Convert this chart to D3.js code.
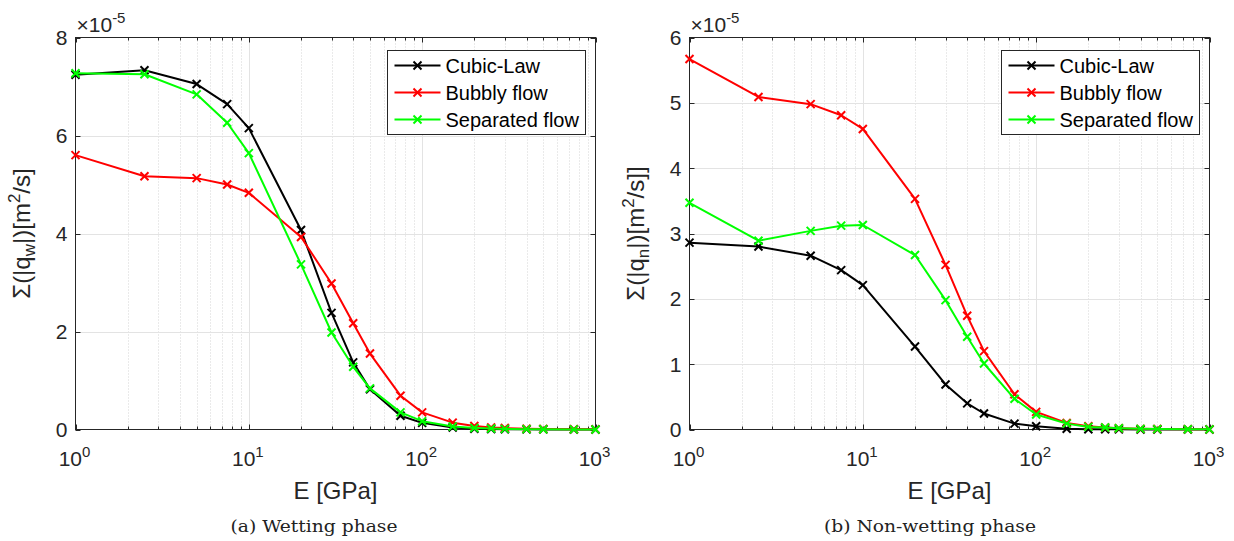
<!DOCTYPE html>
<html>
<head>
<meta charset="utf-8">
<script src="https://cdn.jsdelivr.net/npm/d3@7"></script>
<style>
  html, body { margin: 0; padding: 0; background: #fff; }
  svg { display: block; }
  text { font-family: "Liberation Sans", Arial, Helvetica, sans-serif; }
  text.caption { font-family: "DejaVu Serif", "Liberation Serif", serif; }
</style>
</head>
<body>
<svg id="chart" width="1234" height="541"></svg>
<script>
// ---------- data (values in units of 1e-5 m^2/s) ----------
const E = [1, 2.5, 5, 7.5, 10, 20, 30, 40, 50, 75, 100, 150, 200, 250, 300, 400, 500, 750, 1000];
const seriesNames = ["Cubic-Law", "Bubbly flow", "Separated flow"];
const seriesColors = ["#000000", "#ff0000", "#00ff00"];

const wetCubic  = [7.24, 7.33, 7.05, 6.64, 6.15, 4.07, 2.38, 1.37, 0.82, 0.28, 0.135, 0.04, 0.015, 0.008, 0.005, 0.003, 0.002, 0.001, 0.0005];
const wetBubbly = [5.60, 5.17, 5.13, 5.00, 4.83, 3.93, 2.98, 2.17, 1.55, 0.69, 0.35, 0.14, 0.07, 0.04, 0.03, 0.015, 0.01, 0.005, 0.003];
const wetSep    = [7.27, 7.25, 6.84, 6.26, 5.64, 3.37, 1.98, 1.28, 0.84, 0.35, 0.17, 0.06, 0.03, 0.02, 0.012, 0.007, 0.005, 0.002, 0.001];

const nwCubic   = [2.86, 2.80, 2.66, 2.44, 2.21, 1.27, 0.69, 0.40, 0.245, 0.09, 0.05, 0.012, 0.005, 0.003, 0.002, 0.001, 0.001, 0.0005, 0.0003];
const nwBubbly  = [5.67, 5.09, 4.98, 4.81, 4.60, 3.53, 2.52, 1.74, 1.20, 0.54, 0.27, 0.10, 0.05, 0.03, 0.02, 0.01, 0.007, 0.003, 0.002];
const nwSep     = [3.47, 2.89, 3.04, 3.12, 3.13, 2.67, 1.98, 1.42, 1.01, 0.47, 0.23, 0.09, 0.04, 0.03, 0.02, 0.01, 0.006, 0.003, 0.002];

const xDecades = [1, 10, 100, 1000];
const xTickExps = ["0", "1", "2", "3"];
const wetYTicks = [0, 2, 4, 6, 8];
const nwYTicks = [0, 1, 2, 3, 4, 5, 6];
const yExponent = "-5";
const xLabel = "E [GPa]";
const captions = ["(a) Wetting phase", "(b) Non-wetting phase"];

// ---------- drawing ----------
const svg = d3.select("#chart");
const axisColor = "#262626";

function drawPanel(cfg) {
  const g = svg.append("g");
  const x = d3.scaleLog().domain([1, 1000]).range([cfg.left, cfg.right]);
  const y = d3.scaleLinear().domain([0, cfg.yMax]).range([cfg.bottom, cfg.top]);

  const minors = [];
  for (let d = 1; d < 1000; d *= 10) for (let k = 2; k <= 9; k++) minors.push(d * k);

  // minor grid (dotted)
  g.append("g").selectAll("line").data(minors).join("line")
    .attr("x1", d => Math.round(x(d)) + 0.5).attr("x2", d => Math.round(x(d)) + 0.5)
    .attr("y1", cfg.top).attr("y2", cfg.bottom)
    .attr("stroke", "#d4d4d4").attr("stroke-width", 1).attr("stroke-dasharray", "1,2");

  // major grid
  g.append("g").selectAll("line").data(xDecades.slice(1, -1)).join("line")
    .attr("x1", d => Math.round(x(d)) + 0.5).attr("x2", d => Math.round(x(d)) + 0.5)
    .attr("y1", cfg.top).attr("y2", cfg.bottom)
    .attr("stroke", "#e3e3e3").attr("stroke-width", 1);
  g.append("g").selectAll("line").data(cfg.yTicks.slice(1, -1)).join("line")
    .attr("x1", cfg.left).attr("x2", cfg.right)
    .attr("y1", d => Math.round(y(d)) + 0.5).attr("y2", d => Math.round(y(d)) + 0.5)
    .attr("stroke", "#e3e3e3").attr("stroke-width", 1);

  // axes box
  g.append("rect").attr("x", cfg.left).attr("y", cfg.top)
    .attr("width", cfg.right - cfg.left).attr("height", cfg.bottom - cfg.top)
    .attr("fill", "none").attr("stroke", axisColor).attr("stroke-width", 1);

  // ticks (inward, all four sides)
  const tk = g.append("g").attr("stroke", axisColor).attr("stroke-width", 1);
  xDecades.forEach(d => {
    const px = Math.round(x(d)) + 0.5;
    tk.append("line").attr("x1", px).attr("x2", px).attr("y1", cfg.bottom).attr("y2", cfg.bottom - 5);
    tk.append("line").attr("x1", px).attr("x2", px).attr("y1", cfg.top).attr("y2", cfg.top + 5);
  });
  minors.forEach(d => {
    const px = Math.round(x(d)) + 0.5;
    tk.append("line").attr("x1", px).attr("x2", px).attr("y1", cfg.bottom).attr("y2", cfg.bottom - 3);
    tk.append("line").attr("x1", px).attr("x2", px).attr("y1", cfg.top).attr("y2", cfg.top + 3);
  });
  cfg.yTicks.forEach(d => {
    const py = Math.round(y(d)) + 0.5;
    tk.append("line").attr("x1", cfg.left).attr("x2", cfg.left + 5).attr("y1", py).attr("y2", py);
    tk.append("line").attr("x1", cfg.right).attr("x2", cfg.right - 5).attr("y1", py).attr("y2", py);
  });

  // y tick labels
  g.append("g").selectAll("text").data(cfg.yTicks).join("text")
    .attr("x", cfg.left - 8).attr("y", d => y(d)).attr("dy", "0.36em")
    .attr("text-anchor", "end").attr("font-size", 21).attr("fill", axisColor)
    .text(d => d);

  // x tick labels 10^n
  xDecades.forEach((d, i) => {
    const t = g.append("text").attr("x", x(d) - 1).attr("y", cfg.bottom + 36)
      .attr("text-anchor", "middle").attr("font-size", 21).attr("fill", axisColor);
    t.append("tspan").text("10");
    t.append("tspan").attr("dy", -9).attr("font-size", 15).text(xTickExps[i]);
  });

  // exponent label
  const ex = g.append("text").attr("x", cfg.left + 1).attr("y", cfg.top - 6)
    .attr("font-size", 21).attr("fill", axisColor);
  ex.append("tspan").text("\u00d710");
  ex.append("tspan").attr("dy", -9).attr("font-size", 15).text(yExponent);

  // x label
  g.append("text").attr("x", (cfg.left + cfg.right) / 2).attr("y", cfg.bottom + 69)
    .attr("text-anchor", "middle").attr("font-size", 24).attr("fill", axisColor).text(xLabel);

  // y label
  const yl = g.append("text")
    .attr("transform", `translate(${cfg.left - 46},${(cfg.top + cfg.bottom) / 2}) rotate(-90)`)
    .attr("text-anchor", "middle").attr("font-size", 24).attr("fill", axisColor);
  yl.append("tspan").text("\u03a3(|q");
  yl.append("tspan").attr("dy", 5).attr("font-size", 17).text(cfg.sub);
  yl.append("tspan").attr("dy", -5).text("|)[m");
  yl.append("tspan").attr("dy", -10).attr("font-size", 17).text("2");
  yl.append("tspan").attr("dy", 10).text("/s]" + cfg.extra);

  // series
  const line = d3.line().x(d => x(d[0])).y(d => y(d[1]));
  cfg.series.forEach((vals, si) => {
    const pts = E.map((e, i) => [e, vals[i]]);
    g.append("path").datum(pts).attr("d", line)
      .attr("fill", "none").attr("stroke", seriesColors[si]).attr("stroke-width", 2)
      .attr("stroke-linejoin", "round");
    g.append("g").selectAll("path").data(pts).join("path")
      .attr("d", d => {
        const cx = x(d[0]), cy = y(d[1]), r = 4;
        return `M${cx - r},${cy - r}L${cx + r},${cy + r}M${cx - r},${cy + r}L${cx + r},${cy - r}`;
      })
      .attr("stroke", seriesColors[si]).attr("stroke-width", 2).attr("fill", "none");
  });

  // legend
  const lw = 198, lh = 84;
  const lx = cfg.right - 11 - lw, ly = cfg.top + 12;
  const lg = g.append("g");
  lg.append("rect").attr("x", Math.round(lx) + 0.5).attr("y", Math.round(ly) + 0.5)
    .attr("width", lw).attr("height", lh).attr("fill", "#fff")
    .attr("stroke", axisColor).attr("stroke-width", 1);
  seriesNames.forEach((name, i) => {
    const ry = ly + 16 + i * 27;
    lg.append("line").attr("x1", lx + 8).attr("x2", lx + 54).attr("y1", ry).attr("y2", ry)
      .attr("stroke", seriesColors[i]).attr("stroke-width", 2);
    const cx = lx + 31, r = 4;
    lg.append("path").attr("d", `M${cx - r},${ry - r}L${cx + r},${ry + r}M${cx - r},${ry + r}L${cx + r},${ry - r}`)
      .attr("stroke", seriesColors[i]).attr("stroke-width", 2);
    lg.append("text").attr("x", lx + 59).attr("y", ry).attr("dy", "0.36em")
      .attr("font-size", 20).attr("fill", "#000").text(name);
  });

  // caption
  svg.append("text").attr("class", "caption").attr("x", cfg.capX).attr("y", 532).attr("text-anchor", "middle")
    .attr("font-size", 16)
    .attr("fill", "#222").attr("textLength", cfg.capW).attr("lengthAdjust", "spacingAndGlyphs")
    .text(cfg.caption);
}

drawPanel({ left: 75.5, right: 595.5, top: 37.5, bottom: 429.5, yMax: 8, yTicks: wetYTicks,
  series: [wetCubic, wetBubbly, wetSep], sub: "w", extra: "", caption: captions[0], capX: 314, capW: 167 });
drawPanel({ left: 689.5, right: 1209.5, top: 37.5, bottom: 429.5, yMax: 6, yTicks: nwYTicks,
  series: [nwCubic, nwBubbly, nwSep], sub: "n", extra: "]", caption: captions[1], capX: 930, capW: 212 });
</script>
</body>
</html>
